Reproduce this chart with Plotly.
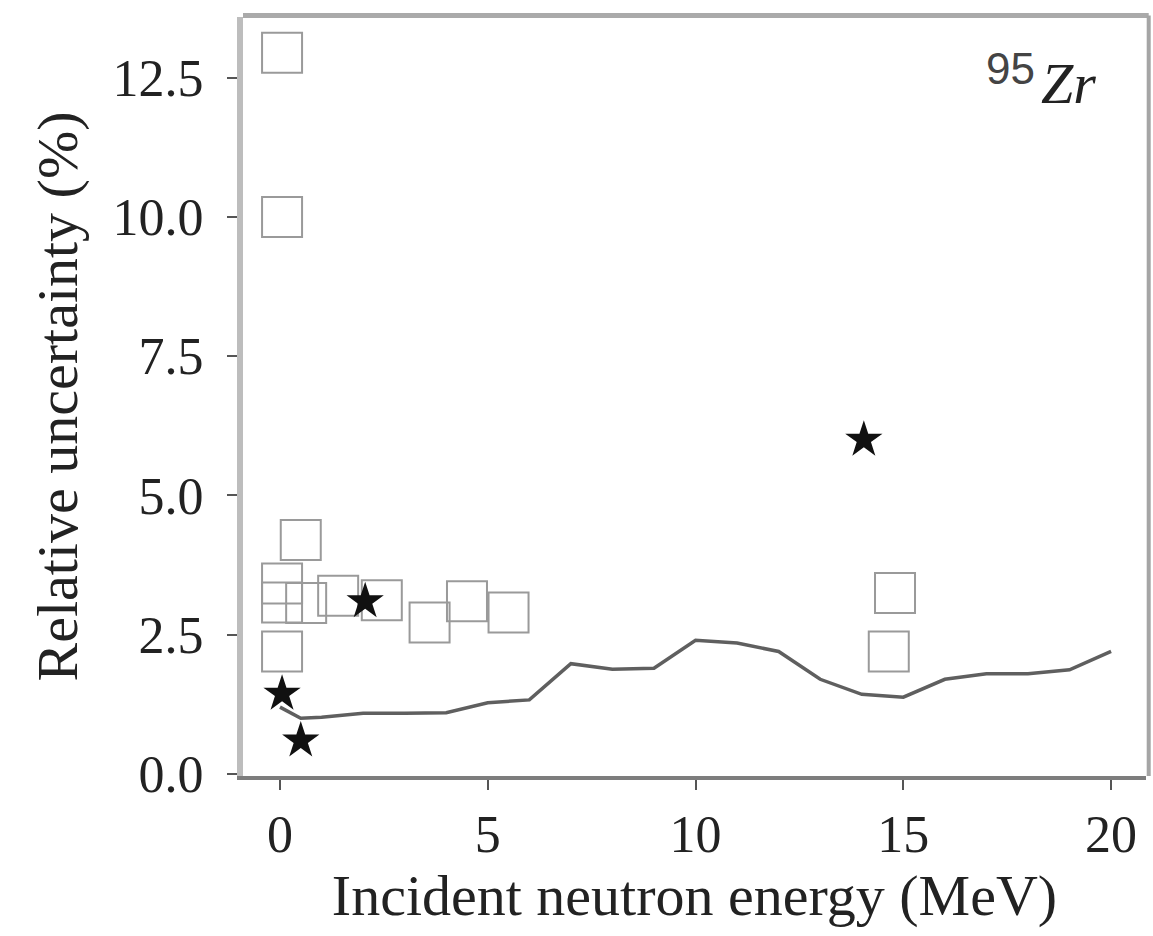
import plotly.graph_objects as go

# Open squares (experimental / evaluated points)
sq_energy = [0.05, 0.05, 0.5, 0.05, 0.05, 0.63, 1.4, 2.45, 3.6, 4.5, 5.5, 0.05, 14.8, 14.65]
sq_unc = [12.95, 10.0, 4.2, 3.42, 3.08, 3.07, 3.2, 3.12, 2.72, 3.1, 2.9, 2.2, 3.25, 2.2]

# Filled stars
st_energy = [0.05, 0.5, 2.05, 14.05]
st_unc = [1.44, 0.6, 3.1, 6.0]

# Solid line
ln_energy = [0, 0.5, 1, 2, 3, 4, 5, 6, 7, 8, 9, 10, 11, 12, 13, 14, 15, 16, 17, 18, 19, 20]
ln_unc = [1.2, 1.0, 1.02, 1.09, 1.09, 1.1, 1.28, 1.33, 1.98, 1.88, 1.9, 2.4, 2.35, 2.2,
          1.7, 1.43, 1.38, 1.7, 1.8, 1.8, 1.87, 2.2]

x_ticks = [0, 5, 10, 15, 20]
y_ticks = [0, 2.5, 5.0, 7.5, 10.0, 12.5]

SERIF = "Liberation Serif, Times New Roman, serif"
TXT = "#222222"

fig = go.Figure()
fig.add_trace(go.Scatter(x=ln_energy, y=ln_unc, mode="lines",
                         line=dict(color="#5f5f5f", width=3.5), showlegend=False))
fig.add_trace(go.Scatter(x=sq_energy, y=sq_unc, mode="markers",
                         marker=dict(symbol="square-open", size=40,
                                     line=dict(color="#9a9a9a", width=2), color="#9a9a9a"),
                         showlegend=False))
fig.add_trace(go.Scatter(x=st_energy, y=st_unc, mode="markers",
                         marker=dict(symbol="star", size=28, color="#111111",
                                     line=dict(width=0)),
                         showlegend=False))

fig.update_layout(
    width=1153, height=936,
    margin=dict(l=243, r=7, t=17, b=160),
    paper_bgcolor="white", plot_bgcolor="white",
    font=dict(family=SERIF, color=TXT, size=52),
    xaxis=dict(range=[-0.89, 20.84], tickvals=x_ticks, ticks="outside", ticklen=10,
               tickwidth=2, tickcolor="#555555", showgrid=False, zeroline=False,
               showline=True, linecolor="#7d7d7d", linewidth=4,
               tickfont=dict(size=52, family=SERIF, color=TXT),
               title=dict(text="Incident neutron energy (MeV)",
                          font=dict(size=58, family=SERIF, color=TXT), standoff=8)),
    yaxis=dict(range=[-0.036, 13.59], tickvals=y_ticks, tickformat=".1f", ticks="outside",
               ticklen=10, tickwidth=2, tickcolor="#555555", showgrid=False, zeroline=False,
               showline=True, linecolor="#bdbdbd", linewidth=6, ticklabelstandoff=13,
               tickfont=dict(size=52, family=SERIF, color=TXT),
               title=dict(text="Relative uncertainty (%)",
                          font=dict(size=58, family=SERIF, color=TXT), standoff=18)),
    shapes=[
        dict(type="line", xref="paper", yref="paper", x0=0, x1=1.003, y0=1.002, y1=1.002,
             line=dict(color="#aaaaaa", width=5)),
        dict(type="line", xref="paper", yref="paper", x0=1.003, x1=1.003, y0=0, y1=1.002,
             line=dict(color="#a5a5a5", width=4)),
    ],
    annotations=[
        dict(text="95", xref="paper", yref="paper", x=0.879, y=0.9315,
             xanchor="right", yanchor="middle", showarrow=False,
             font=dict(family="Liberation Sans, Arial, sans-serif", size=44, color="#444444")),
        dict(text="<i>Zr</i>", xref="paper", yref="paper", x=0.882, y=0.912,
             xanchor="left", yanchor="middle", showarrow=False,
             font=dict(family=SERIF, size=58, color="#222222")),
    ],
)

fig.write_html("out.html")
